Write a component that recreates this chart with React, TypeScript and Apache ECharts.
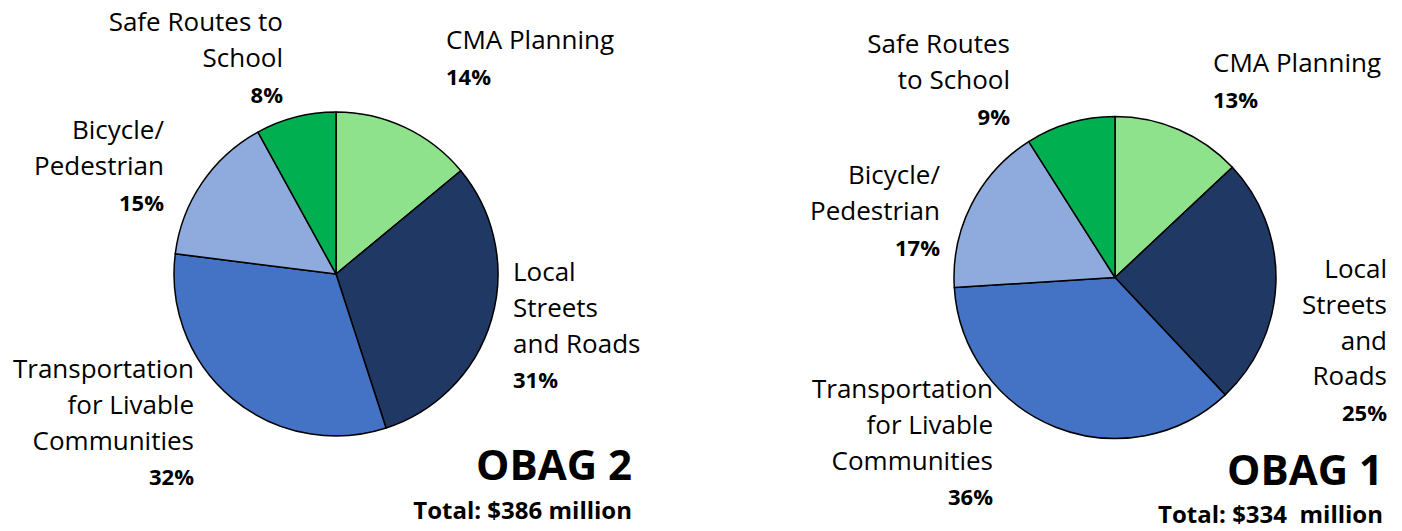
import React, { useEffect, useRef } from "react";
import * as echarts from "echarts";

const categories = [
  "CMA Planning",
  "Local Streets and Roads",
  "Transportation for Livable Communities",
  "Bicycle/Pedestrian",
  "Safe Routes to School",
];
const obag2Values = [14, 31, 32, 15, 8];
const obag1Values = [13, 25, 36, 17, 9];

const obag2LabelLines = [
  ["CMA Planning"],
  ["Local", "Streets", "and Roads"],
  ["Transportation", "for Livable", "Communities"],
  ["Bicycle/", "Pedestrian"],
  ["Safe Routes to", "School"],
];
const obag1LabelLines = [
  ["CMA Planning"],
  ["Local", "Streets", "and", "Roads"],
  ["Transportation", "for Livable", "Communities"],
  ["Bicycle/", "Pedestrian"],
  ["Safe Routes", "to School"],
];
const titles = ["OBAG 2", "OBAG 1"];
const totals = ["Total: $386 million", "Total: $334  million"];

const colors = ["#8FE28C", "#203864", "#4472C4", "#8FAADC", "#00B050"];

// label layout (style only)
const obag2Layout = [
  { x: 446, y: 39, align: "left" },
  { x: 513, y: 271, align: "left" },
  { x: 194, y: 368, align: "right" },
  { x: 164, y: 129, align: "right" },
  { x: 283, y: 21, align: "right" },
];
const obag1Layout = [
  { x: 1213, y: 62, align: "left" },
  { x: 1387, y: 268, align: "right" },
  { x: 993, y: 388, align: "right" },
  { x: 940, y: 174, align: "right" },
  { x: 1010, y: 43, align: "right" },
];
const PITCH = 35.8;
const FONT = '"Open Sans", "DejaVu Sans", sans-serif';

function labelElements(lines: string[][], values: number[], layout: any[]) {
  const els: any[] = [];
  lines.forEach((ls, i) => {
    const L = layout[i];
    ls.forEach((t, j) => {
      els.push({
        type: "text",
        x: L.x,
        y: L.y + j * PITCH,
        silent: true,
        style: {
          text: t,
          fill: "#000",
          font: `26px ${FONT}`,
          align: L.align,
          verticalAlign: "middle",
        },
      });
    });
    els.push({
      type: "text",
      x: L.x,
      y: L.y + ls.length * PITCH + 1,
      silent: true,
      style: {
        text: values[i] + "%",
        fill: "#000",
        font: `bold 22px ${FONT}`,
        align: L.align,
        verticalAlign: "middle",
      },
    });
  });
  return els;
}

export default function App() {
  const ref = useRef<HTMLDivElement>(null);
  useEffect(() => {
    document.body.style.margin = "0";
    const chart = echarts.init(ref.current!, null, { renderer: "svg" });
    const mk = (vals: number[]) =>
      categories.map((c, i) => ({
        name: c,
        value: vals[i],
        itemStyle: { color: colors[i] },
      }));
    const pieBase = {
      type: "pie",
      startAngle: 90,
      clockwise: true,
      silent: true,
      label: { show: false },
      labelLine: { show: false },
      emphasis: { disabled: true },
      itemStyle: { borderColor: "#000", borderWidth: 1.5 },
    };
    chart.setOption({
      animation: false,
      backgroundColor: "#fff",
      series: [
        { ...pieBase, center: [336, 274], radius: 162, data: mk(obag2Values) },
        { ...pieBase, center: [1115, 277.5], radius: 161, data: mk(obag1Values) },
      ],
      graphic: {
        elements: [
          ...labelElements(obag2LabelLines, obag2Values, obag2Layout),
          ...labelElements(obag1LabelLines, obag1Values, obag1Layout),
          {
            type: "text",
            x: 632,
            y: 463,
            silent: true,
            style: { text: titles[0], fill: "#000", font: `bold 42px ${FONT}`, align: "right", verticalAlign: "middle" },
          },
          {
            type: "text",
            x: 632,
            y: 509,
            silent: true,
            style: { text: totals[0], fill: "#000", font: `bold 24px ${FONT}`, align: "right", verticalAlign: "middle" },
          },
          {
            type: "text",
            x: 1383,
            y: 468,
            silent: true,
            style: { text: titles[1], fill: "#000", font: `bold 42px ${FONT}`, align: "right", verticalAlign: "middle" },
          },
          {
            type: "text",
            x: 1383,
            y: 513,
            silent: true,
            style: { text: totals[1], fill: "#000", font: `bold 24px ${FONT}`, align: "right", verticalAlign: "middle" },
          },
        ],
      },
    });
    return () => chart.dispose();
  }, []);
  return <div ref={ref} style={{ width: 1402, height: 531 }} />;
}
